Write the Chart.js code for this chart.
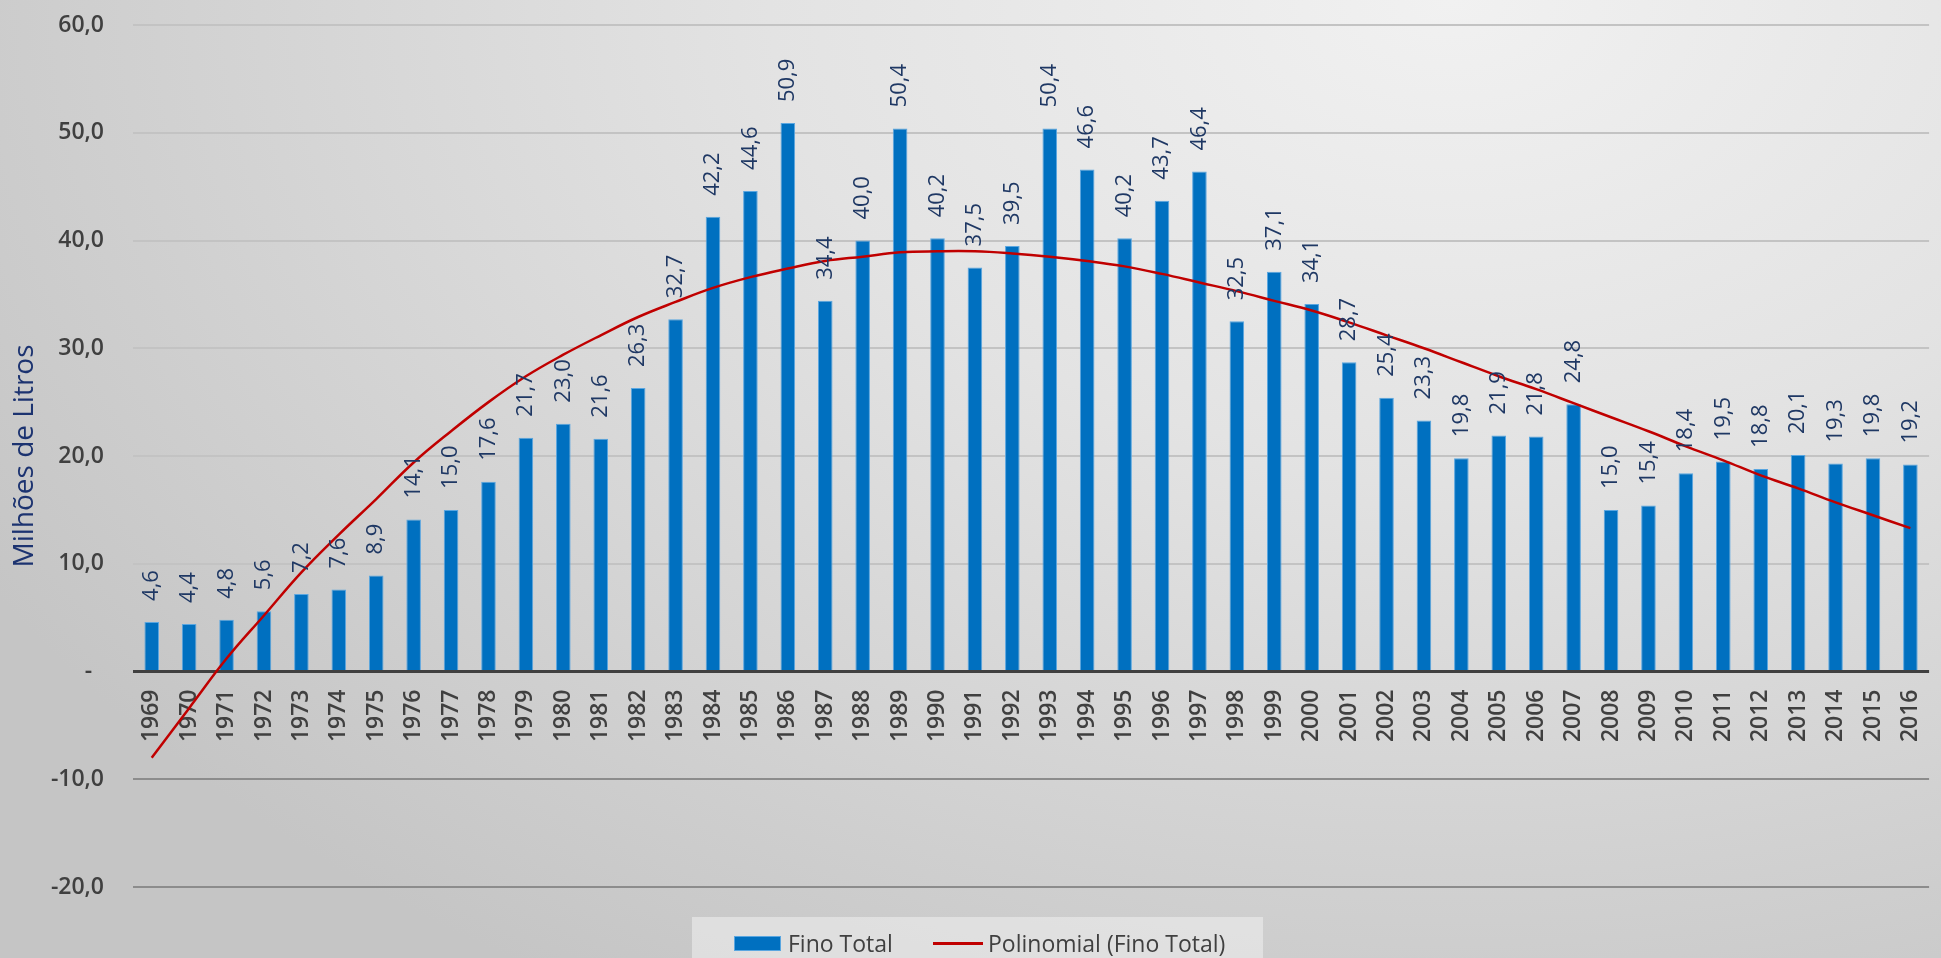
<!DOCTYPE html>
<html>
<head>
<meta charset="utf-8">
<script src="https://cdn.jsdelivr.net/npm/chart.js@4"></script>
<style>
  html, body { margin: 0; padding: 0; overflow: hidden; }
  body {
    width: 1941px; height: 958px; position: relative;
    background: radial-gradient(ellipse 1700px 1150px at 1450px 0px, #f1f1f1 0%, #e3e3e3 40%, #c5c5c5 100%);
    font-family: "Open Sans", sans-serif;
  }
  #wrap { position: absolute; left: 0; top: 0; width: 1956px; height: 958px; }
  .legend {
    position: absolute; left: 692px; top: 917px; width: 571px; height: 45px;
    background: rgba(240,240,240,0.55);
    color: #404040; font-size: 23px;
  }
  .legend span { position: absolute; top: 12px; line-height: 28px; white-space: nowrap; }
  .sw-bar { position: absolute; left: 42px; top: 19px; width: 47px; height: 15px; background: #0070c0; border: 1px solid #5aa6e0; box-sizing: border-box; }
  .sw-line { position: absolute; left: 241px; top: 25px; width: 50px; height: 3px; background: #c00000; }
</style>
</head>
<body>
<div id="wrap"><canvas id="chart"></canvas></div>
<div class="legend">
  <div class="sw-bar"></div><span style="left:96px">Fino Total</span>
  <div class="sw-line"></div><span style="left:296px">Polinomial (Fino Total)</span>
</div>
<script>
// anos e valores (milhões de litros)
const anos = ['1969','1970','1971','1972','1973','1974','1975','1976','1977','1978',
  '1979','1980','1981','1982','1983','1984','1985','1986','1987','1988',
  '1989','1990','1991','1992','1993','1994','1995','1996','1997','1998',
  '1999','2000','2001','2002','2003','2004','2005','2006','2007','2008',
  '2009','2010','2011','2012','2013','2014','2015','2016'];

const finoTotal = [4.6, 4.4, 4.8, 5.6, 7.2, 7.6, 8.9, 14.1, 15.0, 17.6,
  21.7, 23.0, 21.6, 26.3, 32.7, 42.2, 44.6, 50.9, 34.4, 40.0,
  50.4, 40.2, 37.5, 39.5, 50.4, 46.6, 40.2, 43.7, 46.4, 32.5,
  37.1, 34.1, 28.7, 25.4, 23.3, 19.8, 21.9, 21.8, 24.8, 15.0,
  15.4, 18.4, 19.5, 18.8, 20.1, 19.3, 19.8, 19.2];

// linha de tendência
const polinomial = [-8.0, -3.4, 1.2, 5.2, 9.2, 12.7, 16.0, 19.4, 22.3, 25.0,
  27.4, 29.4, 31.2, 32.9, 34.3, 35.6, 36.6, 37.4, 38.1, 38.5,
  38.9, 39.0, 39.0, 38.8, 38.5, 38.1, 37.6, 36.9, 36.1, 35.3,
  34.4, 33.5, 32.4, 31.2, 30.0, 28.7, 27.4, 26.2, 24.9, 23.6,
  22.3, 20.9, 19.6, 18.2, 17.0, 15.7, 14.5, 13.3];

const yMin = -20, yMax = 60, yStep = 10;

function fmt(v) { return v.toFixed(1).replace('.', ','); }

// rótulos de dados verticais sobre as barras
const rotulos = {
  id: 'rotulos',
  afterDatasetsDraw(chart) {
    const ctx = chart.ctx;
    const meta = chart.getDatasetMeta(1);
    ctx.save();
    ctx.font = '22px "Open Sans"';
    ctx.fillStyle = '#1f3864';
    ctx.textAlign = 'left';
    ctx.textBaseline = 'middle';
    meta.data.forEach((bar, i) => {
      ctx.save();
      ctx.translate(bar.x, bar.y - 21);
      ctx.rotate(-Math.PI / 2);
      ctx.fillText(fmt(finoTotal[i]), 0, 0);
      ctx.restore();
    });
    ctx.restore();
  }
};

// sem margens extras das escalas: a área do gráfico fica só com o layout.padding
function semPadding(scale) {
  scale.paddingTop = 0;
  scale.paddingBottom = 0;
}

const ctx = document.getElementById('chart').getContext('2d');
new Chart(ctx, {
  data: {
    labels: anos,
    datasets: [
      { type: 'line', label: 'Polinomial (Fino Total)', data: polinomial,
        borderColor: '#c00000', borderWidth: 2.5, pointRadius: 0, tension: 0.4, order: 0 },
      { type: 'bar', label: 'Fino Total', data: finoTotal,
        backgroundColor: '#0070c0', borderColor: '#5aa6e0', borderWidth: 1,
        categoryPercentage: 1, barPercentage: 0.39, order: 1 }
    ]
  },
  options: {
    responsive: true,
    maintainAspectRatio: false,
    animation: false,
    layout: { padding: { top: 25, right: 2, bottom: 71, left: 0 } },
    plugins: { legend: { display: false }, tooltip: { enabled: false } },
    scales: {
      x: {
        position: { y: 0 },
        afterFit: semPadding,
        grid: { display: false, drawTicks: false },
        border: { display: false },
        ticks: {
          autoSkip: false, maxRotation: 90, minRotation: 90, padding: 18,
          color: '#404040', font: { family: 'Open Sans', size: 23, weight: '600' }
        }
      },
      y: {
        min: yMin, max: yMax,
        afterFit(scale) { scale.width = 133; semPadding(scale); },
        border: { display: false },
        grid: {
          drawTicks: false,
          color: c => c.tick.value === 0 ? '#404040' : (c.tick.value < 0 ? '#8c8c8c' : '#c3c3c3'),
          lineWidth: c => c.tick.value === 0 ? 3 : 2
        },
        ticks: {
          stepSize: yStep, padding: 29,
          color: '#404040', font: { family: 'Open Sans', size: 23, weight: '600' },
          callback: v => v === 0 ? '-  ' : fmt(v)
        },
        title: {
          display: true, text: 'Milhões de Litros', color: '#1c3370',
          font: { family: 'Open Sans', size: 28 }, padding: { top: 8, bottom: 0 }
        }
      }
    }
  },
  plugins: [rotulos]
});
</script>
</body>
</html>
